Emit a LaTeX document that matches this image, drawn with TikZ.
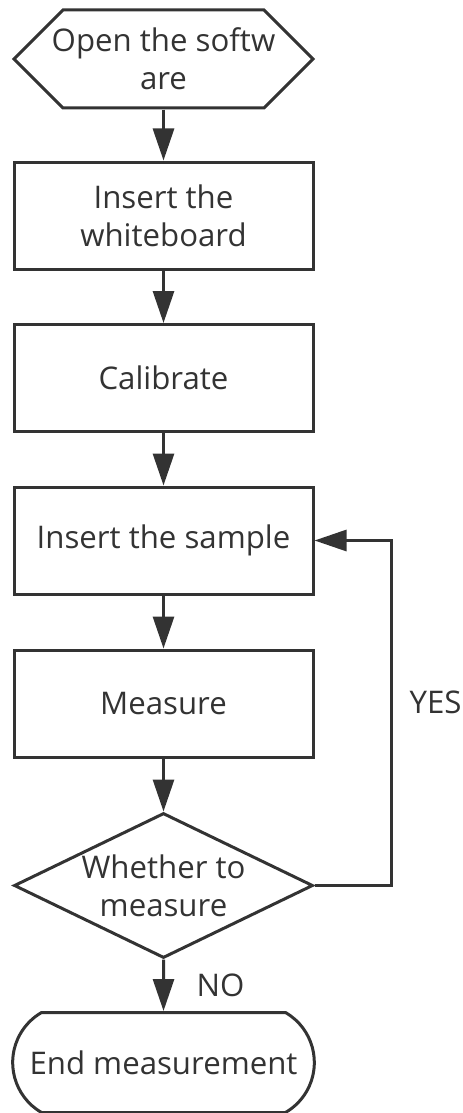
\documentclass[tikz,border=0pt]{standalone}
\usepackage{fontspec}
\setmainfont{Open Sans}
\usepackage{tikz}
\usetikzlibrary{arrows.meta,positioning,shapes.geometric,shapes.symbols,shapes.misc}
\definecolor{ink}{HTML}{333333}

\begin{document}
\begin{tikzpicture}[color=ink,line width=1.5pt,node distance=81.25pt,on grid,
    >={Triangle[length=16pt,width=10.5pt]},font=\fontsize{15.6}{19}\selectfont]
       \tikzstyle{process}=[draw, rectangle, minimum width=149.5pt, minimum height=53.5pt, align=center]
       \tikzstyle{start}=[draw, signal, signal to=west and east, signal pointer angle=90,
                          minimum width=149.5pt, minimum height=49pt, inner sep=0pt]
       \tikzstyle{decision}=[draw, diamond, minimum width=149.5pt, minimum height=72.5pt, inner sep=0pt]
       \tikzstyle{stop}=[draw, rounded rectangle, rounded rectangle arc length=120,
                         minimum width=157.5pt, minimum height=50pt]

       \useasboundingbox (0,0) rectangle (231pt,-556.5pt);

       \node[start, label={[align=center]center:Open the softw\\are}] (open) at (81.75pt,-29.5pt) {};
       \node[process] (board)  [below=78.25pt of open]  {Insert the\\whiteboard};
       \node[process] (calib)  [below=of board]         {Calibrate};
       \node[process] (sample) [below=of calib]         {Insert the sample};
       \node[process] (meas)   [below=81.5pt of sample] {Measure};
       \node[decision, label={[align=center]center:Whether to\\measure}] (check) [below=91pt of meas] {};
       \node[stop] (end) [below=88.5pt of check] {End measurement};

       \path[->]
       (open)   edge (board)
       (board)  edge (calib)
       (calib)  edge (sample)
       (sample) edge (meas)
       (meas)   edge (check)
       (check)  edge node[right=12.5pt] {NO} (end);

       \draw[->] (check.east) -- ++(38.5pt,0) |- node[right=5pt, pos=0.266] {YES} (sample.east);
     \end{tikzpicture}
\end{document}
